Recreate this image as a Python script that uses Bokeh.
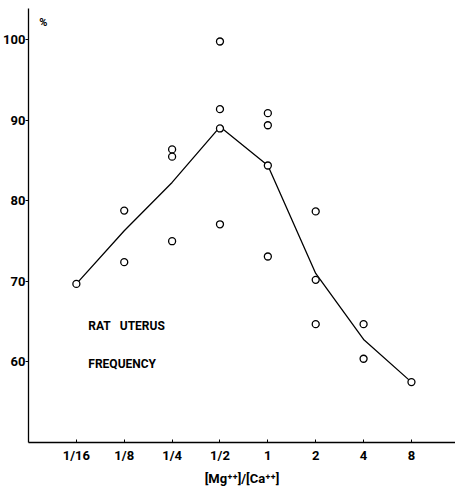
import math
from bokeh.plotting import figure
from bokeh.models import FixedTicker, Label
from bokeh.embed import file_html
from bokeh.resources import INLINE

# Mg/Ca concentration ratios and their tick labels
ratios = [1/16, 1/8, 1/4, 1/2, 1, 2, 4, 8]
ratio_labels = ["1/16", "1/8", "1/4", "1/2", "1", "2", "4", "8"]

# individual observations (ratio, % frequency)
obs_ratio = [1/16, 1/8, 1/8, 1/4, 1/4, 1/4, 1/2, 1/2, 1/2, 1/2,
             1, 1, 1, 1, 2, 2, 2, 4, 4, 8]
obs_value = [69.7, 78.8, 72.4, 86.4, 85.5, 75.0, 99.8, 91.4, 89.0, 77.1,
             90.9, 89.4, 84.4, 73.1, 78.7, 70.2, 64.7, 64.7, 60.4, 57.5]

# mean curve
mean_value = [69.7, 76.3, 82.3, 89.2, 84.4, 71.0, 62.8, 57.5]

y_ticks = [60, 70, 80, 90, 100]

FONT = "Roboto"

p = figure(width=455, height=495, output_backend="svg", toolbar_location=None,
           x_axis_type="log", x_range=(2 ** -5, 2 ** 3.92), y_range=(50, 103.9),
           min_border_left=27, min_border_right=0, min_border_top=8,
           min_border_bottom=53)
p.outline_line_color = None
p.xgrid.visible = False
p.ygrid.visible = False
p.background_fill_color = "white"
p.border_fill_color = "white"

p.line(ratios, mean_value, line_color="black", line_width=1.3)
p.scatter(obs_ratio, obs_value, marker="circle", size=7, fill_color="white",
          line_color="black", line_width=1.3)

xa = p.xaxis[0]
xa.ticker = FixedTicker(ticks=ratios)
xa.major_label_overrides = {r: t for r, t in zip(ratios, ratio_labels)}
xa.minor_tick_line_color = None
xa.major_tick_in = 3
xa.major_tick_out = 0
xa.major_label_standoff = 5
xa.axis_line_width = 1.6
xa.major_label_text_font = FONT
xa.major_label_text_font_style = "bold"
xa.major_label_text_font_size = "13px"
xa.major_label_text_color = "black"
xa.axis_label = "[Mg⁺⁺]/[Ca⁺⁺]"
xa.axis_label_text_font = FONT
xa.axis_label_text_font_style = "bold"
xa.axis_label_text_font_size = "13px"
xa.axis_label_text_color = "black"
xa.axis_label_standoff = 5

ya = p.yaxis[0]
ya.ticker = FixedTicker(ticks=y_ticks)
ya.minor_tick_line_color = None
ya.major_tick_in = 0
ya.major_tick_out = 3
ya.major_label_standoff = 0
ya.axis_line_width = 1.3
ya.major_label_text_font = FONT
ya.major_label_text_font_style = "bold"
ya.major_label_text_font_size = "13px"
ya.major_label_text_color = "black"

p.add_layout(Label(x=2 ** -4.69, y=102.2, text="%", text_font=FONT,
                   text_font_style="bold", text_font_size="11px",
                   text_color="black",
                   text_align="center", text_baseline="middle"))
p.add_layout(Label(x=2 ** -3.75, y=64.5, text="RAT\u00a0\u00a0\u00a0UTERUS",
                   text_font=FONT, text_font_style="bold",
                   text_font_size="12px", text_color="black",
                   text_align="left", text_baseline="middle"))
p.add_layout(Label(x=2 ** -3.75, y=59.8, text="FREQUENCY", text_font=FONT,
                   text_font_style="bold", text_font_size="12px",
                   text_color="black",
                   text_align="left", text_baseline="middle"))

open("out.html", "w").write(file_html(p, INLINE))
